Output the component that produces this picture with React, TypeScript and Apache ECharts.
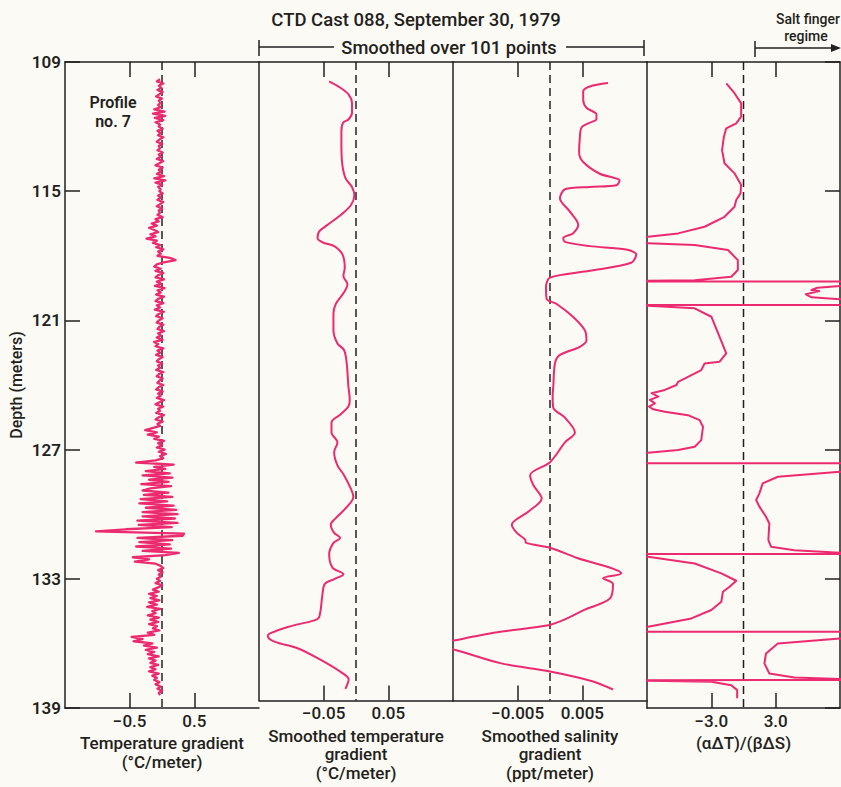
import React, { useEffect, useRef } from "react";
import * as echarts from "echarts";

// ---------- data ----------
const depthTicks = [109, 115, 121, 127, 133, 139];

// Panel 1: raw temperature gradient (°C/m), sampled every 0.1 m from 109.8 m
const tempStartDepth = 109.8;
const tempStep = 0.1;
const tempGradient = [
  -0.03, -0.08,
  0.02, -0.05, -0.01, -0.07, 0.01, -0.04, -0.09, 0.0, -0.05, -0.02,
  -0.06, -0.02, -0.12, 0.04, -0.14, 0.05, -0.11, 0.02, -0.1, -0.03,
  -0.05, 0.01, -0.07, -0.02, -0.06, 0.02, -0.04, -0.08, 0.0, -0.05,
  -0.03, -0.07, 0.01, -0.05, -0.02, -0.08, 0.02, -0.04, -0.1, 0.01,
  -0.05, -0.02, -0.08, 0.03, -0.12, 0.05, -0.1, 0.0, -0.06, -0.02,
  -0.04, 0.01, -0.06, -0.02, -0.07, 0.02, -0.03, -0.08, 0.0, -0.05,
  -0.03, -0.07, 0.01, -0.1, -0.05, -0.16, -0.08, -0.2, -0.12, -0.06,
  -0.18, -0.1, -0.24, -0.08, -0.14, -0.03, -0.09, 0.02, -0.06, -0.02,
  -0.07, 0.12, 0.21, 0.03, -0.08, -0.12, -0.02, -0.1, 0.02, -0.06,
  -0.1, 0.03, -0.08, -0.01, -0.11, 0.04, -0.07, -0.02, -0.09, 0.03,
  -0.06, -0.1, 0.02, -0.08, -0.03, -0.11, 0.03, -0.05, -0.09, 0.01,
  -0.05, -0.08, 0.02, -0.04, -0.07, 0.03, -0.06, -0.02, -0.08, 0.01,
  -0.12, -0.06, -0.1, 0.02, -0.07, -0.03, -0.09, 0.01, -0.05, -0.08,
  0.0, -0.06, -0.03, -0.09, 0.02, -0.05, -0.08, 0.01, -0.04, -0.07,
  0.02, -0.05, -0.09, 0.01, -0.06, -0.02, -0.08, 0.03, -0.04, -0.1,
  0.02, -0.06, -0.03, -0.09, 0.03, -0.05, -0.1, 0.01, -0.07, -0.03,
  -0.15, -0.26, -0.08, -0.22, -0.05, -0.12, 0.03, -0.06, 0.0, -0.08,
  0.04, -0.05, 0.06, -0.03, 0.02, -0.1, -0.4, 0.18, -0.12, 0.05,
  -0.25, 0.12, -0.3, 0.16, -0.2, 0.1, -0.32, 0.14, -0.18, -0.3,
  0.1, -0.28, 0.16, -0.33, 0.08, -0.35, 0.18, -0.25, 0.22, -0.3,
  0.24, -0.3, 0.2, -0.38, 0.24, -0.36, 0.15, -0.56, -1.02, 0.34,
  0.32, -0.38, 0.16, -0.35, 0.12, -0.4, 0.14, -0.3, 0.26, 0.05,
  -0.45, -0.2, -0.42, -0.1, -0.02, 0.02, -0.06, 0.01, -0.05, -0.02,
  -0.08, -0.03, -0.1, 0.0, -0.06, -0.14, -0.05, -0.2, -0.08, -0.18,
  -0.04, -0.2, -0.08, -0.23, -0.03, -0.15, -0.1, -0.22, -0.05, -0.18,
  -0.06, -0.2, -0.08, -0.14, -0.04, -0.22, -0.12, -0.47, -0.3, -0.44,
  -0.15, -0.28, -0.08, -0.25, -0.12, -0.22, -0.05, -0.2, -0.1, -0.18,
  -0.06, -0.18, -0.1, -0.2, -0.05, -0.15, -0.08, -0.12, -0.04, -0.1,
  -0.02, -0.07, 0.0, -0.05, -0.03,
];

// Panel 2: smoothed temperature gradient
const smoothTempDepth = [
  109.91, 110.22, 110.53, 110.92, 111.38, 111.69, 111.85, 112.24, 112.93, 113.86,
  114.48, 114.87, 115.26, 115.72, 116.19, 116.65, 116.96, 117.27, 117.47, 117.65,
  118.04, 118.66, 119.05, 119.44, 119.82, 120.37, 120.83, 121.6, 122.22, 122.53,
  123.15, 124.23, 124.85, 125.16, 125.55, 125.94, 126.4, 126.87, 127.33, 127.95,
  128.41, 129.03, 129.42, 129.81, 130.43, 130.74, 131.12, 131.36, 131.59, 132.13,
  132.75, 133.06, 133.29, 133.52, 133.99, 135.07, 135.23, 135.54, 135.85, 135.97,
  136.23, 136.54, 137.09, 137.71, 138.01, 138.25, 138.45,
];
const smoothTempGradient = [
  -0.0415, -0.0236, -0.0113, -0.0062, -0.0062, -0.0113, -0.02, -0.0226, -0.0226, -0.021,
  -0.0159, -0.0062, -0.0026, -0.0077, -0.0236, -0.044, -0.0569, -0.0595, -0.0518, -0.0338,
  -0.021, -0.0174, -0.0195, -0.0133, -0.0185, -0.0313, -0.0349, -0.0349, -0.0287, -0.0185,
  -0.0144, -0.0118, -0.0097, -0.0113, -0.0236, -0.0379, -0.0379, -0.0287, -0.0338, -0.0287,
  -0.0185, -0.0082, -0.0041, -0.0113, -0.0313, -0.039, -0.0338, -0.0246, -0.0349, -0.0415,
  -0.0364, -0.0195, -0.0338, -0.0482, -0.0518, -0.0569, -0.0646, -0.1056, -0.1338, -0.1364,
  -0.1262, -0.0903, -0.0544, -0.021, -0.0113, -0.0136, -0.0164,
];

// Panel 3: smoothed salinity gradient
const salinityDepth = [
  109.99, 110.15, 110.38, 110.77, 111.15, 111.46, 111.69, 111.85, 112.08, 112.62,
  113.24, 113.7, 114.25, 114.56, 114.79, 114.87, 114.98, 115.41, 116.03, 116.65,
  117.04, 117.27, 117.45, 117.65, 117.81, 118.04, 118.43, 118.81, 119.13, 119.59,
  120.13, 120.37, 120.98, 121.6, 122.07, 122.38, 122.76, 123.15, 124.23, 124.7,
  125.24, 125.71, 126.4, 126.87, 127.8, 128.41, 128.88, 129.5, 130.12, 130.74,
  131.12, 131.43, 131.59, 131.82, 132.29, 133.03, 133.25, 133.52, 134.22, 134.76,
  135.15, 135.46, 135.77, 136.16, 136.4, 136.62, 137.24, 137.63, 138.1, 138.48,
];
const salinityGradient = [
  0.00897, 0.00615, 0.00513, 0.00513, 0.00564, 0.00718, 0.00718, 0.00615, 0.00487, 0.0046,
  0.0045, 0.00513, 0.00769, 0.01077, 0.01026, 0.00615, 0.00231, 0.00154, 0.00308, 0.00436,
  0.00359, 0.00205, 0.00231, 0.00615, 0.01179, 0.01333, 0.01256, 0.00615, 0.0, -0.00062,
  -0.00051, 0.00103, 0.00359, 0.00538, 0.00564, 0.0046, 0.00154, 0.00077, 0.00051, 0.00041,
  0.00051, 0.00231, 0.00385, 0.00231, 0.0, -0.00308, -0.00256, -0.00128, -0.00333, -0.0059,
  -0.00513, -0.00385, -0.0037, 0.0, 0.0041, 0.01103, 0.00821, 0.00974, 0.00923, 0.00513,
  0.00256, -0.00026, -0.00769, -0.01462, -0.0185, -0.01462, -0.00769, 0.0, 0.00667, 0.00974,
];

// Panel 4: density ratio (αΔT)/(βΔS)
const ratioDepth = [
  109.99, 110.45, 110.92, 111.54, 111.85, 112.08, 112.47, 113.09, 113.7, 114.17,
  114.71, 115.1, 115.41, 115.72, 116.19, 116.65, 116.96, 117.12, 117.27, 117.42,
  117.5, 117.73, 118.2, 118.66, 118.97, 119.13, 119.16, 119.19, 119.2, 119.3,
  119.4, 119.48, 119.59, 119.64, 119.79, 119.93, 120.02, 120.15, 120.28, 120.29,
  120.32, 120.44, 120.83, 121.76, 122.53, 122.92, 123.0, 123.31, 123.62, 123.85,
  124.0, 124.23, 124.38, 124.54, 124.69, 124.85, 125.0, 125.13, 125.24, 125.4,
  125.63, 125.94, 126.56, 126.87, 127.02, 127.15, 127.4, 127.63, 127.64, 127.85,
  128.03, 128.26, 128.57, 129.03, 129.34, 129.65, 130.12, 130.43, 131.2, 131.51,
  131.67, 131.79, 131.84, 131.85, 131.98, 132.29, 132.75, 133.09, 133.37, 133.6,
  134.07, 134.45, 134.84, 135.23, 135.4, 135.45, 135.46, 135.6, 135.77, 136.0,
  136.47, 136.93, 137.4, 137.58, 137.65, 137.7, 137.71, 137.73, 137.78, 137.94,
  138.17, 138.55,
];
const densityRatio = [
  -1.61, -0.84, -0.22, -0.22, -0.68, -1.61, -1.83, -2.0, -1.77, -0.84,
  -0.22, -0.28, -0.68, -0.84, -1.77, -3.63, -6.1, -8.9, -14, -8.9,
  -4.55, -1.45, -0.53, -0.53, -1.14, -4.55, -8.9, -40, 40, 14,
  9, 6.9, 6.34, 7.06, 5.82, 6.34, 9, 14, 40, -40,
  -8.9, -4.55, -3.0, -2.23, -1.61, -2.23, -3.63, -3.94, -5.18, -6.1,
  -6.25, -7.34, -8.57, -7.95, -8.73, -8.26, -8.82, -8.42, -7.34, -5.18,
  -4.09, -3.78, -3.94, -4.55, -6.1, -8.9, -16, -40, 40, 16,
  9, 3.2, 1.79, 1.48, 1.18, 1.48, 2.1, 2.41, 2.32, 2.57,
  4.74, 9, 40, -40, -8.9, -4.55, -2.07, -0.68, -1.3, -1.92,
  -2.07, -3.0, -4.86, -8.9, -20, -40, 40, 16, 9, 3.2,
  2.1, 1.95, 2.41, 4.74, 9, 40, -40, -8.9, -3.0, -1.14,
  -0.59, -0.59,
];

// ---------- styles ----------
const FONT = 'Roboto, "Liberation Sans", Arial, sans-serif';
const INK = "#231f20";
const PINK = "#ec2a70";
const BG = "#fcfaf4";

const panelLeft = [65, 259, 453, 647];
const panelWidth = [194, 194, 194, 193];
const TOP = 62;
const HEIGHT = 646;

const minus = (s: string) => s.replace("-", "\u2212");

const panels = [
  { min: -1.5, max: 1.5, tick: 0.5, fmt: (v: number) => minus(String(v)), name: "Temperature gradient\n(°C/meter)" },
  { min: -0.15, max: 0.15, tick: 0.05, fmt: (v: number) => minus(String(v)), name: "Smoothed temperature\ngradient\n(°C/meter)" },
  { min: -0.015, max: 0.015, tick: 0.005, fmt: (v: number) => minus(String(v)), name: "Smoothed salinity\ngradient\n(ppt/meter)" },
  { min: -9, max: 9, tick: 3, fmt: (v: number) => minus(v.toFixed(1)), name: "(αΔT)/(βΔS)" },
];

export default function App() {
  const ref = useRef<HTMLDivElement>(null);

  useEffect(() => {
    if (!ref.current) return;
    const chart = echarts.init(ref.current, null, { renderer: "svg" });

    const lineStyleAxis = { color: INK, width: 1.5 };
    const grid = panels.map((_, i) => ({
      left: panelLeft[i],
      top: TOP,
      width: panelWidth[i],
      height: HEIGHT,
      containLabel: false,
    }));

    const xAxis: any[] = [];
    panels.forEach((p, i) => {
      const base = {
        type: "value",
        gridIndex: i,
        min: p.min,
        max: p.max,
        splitLine: { show: false },
        axisLine: { show: true, onZero: false, lineStyle: lineStyleAxis },
        axisTick: { show: true, inside: true, length: 15, customValues: [-p.tick, p.tick], lineStyle: lineStyleAxis },
      };
      xAxis.push({
        ...base,
        position: "bottom",
        axisLabel: {
          show: true,
          customValues: [-p.tick, p.tick],
          formatter: p.fmt,
          margin: 4,
          fontSize: 17,
          fontWeight: 500,
          color: INK,
          fontFamily: FONT,
        },
        name: p.name,
        nameLocation: "middle",
        nameGap: 23,
        nameTextStyle: { fontSize: 17, fontWeight: 500, color: INK, fontFamily: FONT, lineHeight: 18.5 },
      });
      xAxis.push({ ...base, position: "top", axisLabel: { show: false } });
    });

    const yBase = {
      type: "value",
      inverse: true,
      min: 109,
      max: 139,
      splitLine: { show: false },
      axisLine: { show: true, onZero: false, lineStyle: lineStyleAxis },
    };
    const yAxis: any[] = [
      {
        ...yBase,
        gridIndex: 0,
        position: "left",
        axisTick: { show: true, inside: true, length: 15, customValues: depthTicks, lineStyle: lineStyleAxis },
        axisLabel: {
          show: true,
          customValues: depthTicks,
          margin: 4,
          fontSize: 17,
          fontWeight: 600,
          color: INK,
          fontFamily: FONT,
        },
        name: "Depth (meters)",
        nameLocation: "middle",
        nameGap: 41,
        nameRotate: 90,
        nameTextStyle: { fontSize: 16, fontWeight: 500, color: INK, fontFamily: FONT },
      },
      { ...yBase, gridIndex: 1, position: "left", axisTick: { show: false }, axisLabel: { show: false } },
      { ...yBase, gridIndex: 2, position: "left", axisTick: { show: false }, axisLabel: { show: false } },
      { ...yBase, gridIndex: 3, position: "left", axisTick: { show: false }, axisLabel: { show: false } },
      {
        ...yBase,
        gridIndex: 3,
        position: "right",
        axisTick: { show: true, inside: true, length: 15, customValues: depthTicks, lineStyle: lineStyleAxis },
        axisLabel: { show: false },
      },
    ];

    const zeroLine = (i: number) => ({
      type: "line",
      xAxisIndex: 2 * i,
      yAxisIndex: i,
      data: [
        [0, 109],
        [0, 139],
      ],
      showSymbol: false,
      silent: true,
      z: 1,
      lineStyle: { color: INK, width: 1.5, type: [8, 5] },
    });

    const curve = (i: number, yIdx: number, data: number[][], width: number, smooth: number | boolean) => ({
      type: "line",
      xAxisIndex: 2 * i,
      yAxisIndex: yIdx,
      data,
      showSymbol: false,
      smooth,
      clip: true,
      z: 3,
      lineStyle: { color: PINK, width, join: "round" },
    });

    const series = [
      zeroLine(0),
      curve(
        0,
        0,
        tempGradient.map((v, k) => [v, +(tempStartDepth + k * tempStep).toFixed(2)]),
        2.3,
        false
      ),
      zeroLine(1),
      curve(1, 1, smoothTempGradient.map((v, k) => [v, smoothTempDepth[k]]), 2, 0.35),
      zeroLine(2),
      curve(2, 2, salinityGradient.map((v, k) => [v, salinityDepth[k]]), 2, 0.3),
      zeroLine(3),
      curve(3, 3, densityRatio.map((v, k) => [v, ratioDepth[k]]), 2, false),
    ];

    const txt = (text: string, x: number, y: number, size: number, weight: number | string = 500, align = "center") => ({
      type: "text",
      x,
      y,
      style: {
        text,
        font: `${weight} ${size}px ${FONT}`,
        fill: INK,
        align,
        textAlign: align,
        verticalAlign: "middle",
        textVerticalAlign: "middle",
      },
    });
    const seg = (x1: number, y1: number, x2: number, y2: number) => ({
      type: "line",
      shape: { x1, y1, x2, y2 },
      style: { stroke: INK, lineWidth: 1.5 },
    });

    const graphic = [
      txt("CTD Cast 088, September 30, 1979", 416, 20, 18.5, 500),
      txt("Smoothed over 101 points", 449, 47, 18.3, 500),
      seg(259, 47, 334, 47),
      seg(566, 47, 644, 47),
      seg(259, 40, 259, 56),
      seg(644, 40, 644, 56),
      txt("Salt finger", 840, 19, 14, 500, "right"),
      txt("regime", 806, 36, 14, 500),
      seg(755, 41, 755, 57),
      seg(755, 48, 834, 48),
      {
        type: "polygon",
        shape: { points: [[841, 48], [831, 44], [831, 52]] },
        style: { fill: INK },
      },
      txt("Profile", 113, 102, 16, 600),
      txt("no. 7", 113, 121, 16, 600),
    ];

    chart.setOption({
      animation: false,
      backgroundColor: BG,
      textStyle: { fontFamily: FONT },
      grid,
      xAxis,
      yAxis,
      series,
      graphic,
    });

    return () => chart.dispose();
  }, []);

  return (
    <div
      ref={ref}
      style={{ position: "fixed", left: 0, top: 0, width: 841, height: 787, background: BG }}
    />
  );
}
